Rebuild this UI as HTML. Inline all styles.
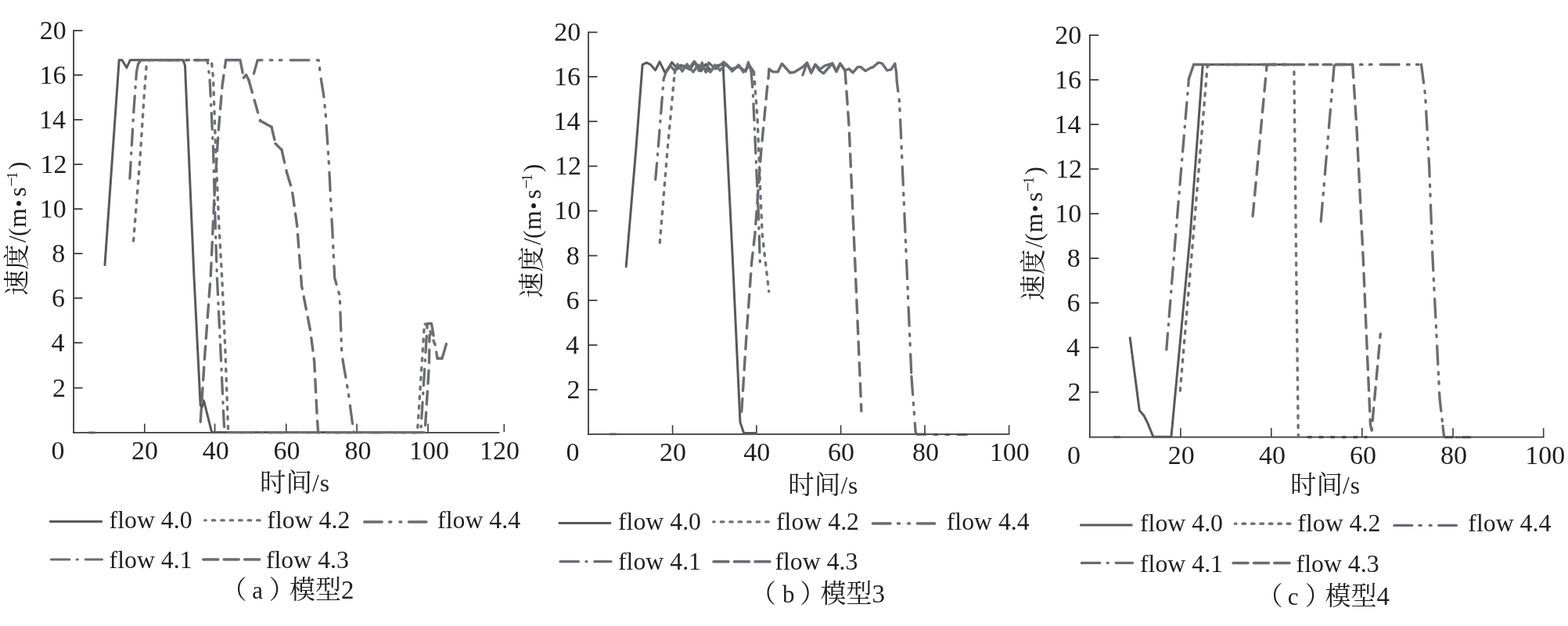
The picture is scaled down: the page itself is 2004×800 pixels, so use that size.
<!DOCTYPE html>
<html><head><meta charset="utf-8"><title>speed</title><style>
html,body{margin:0;padding:0;background:#fff;}
svg{display:block;}
text{font-family:"Liberation Serif","Noto Serif CJK SC",serif;fill:#1e1e1e;}
</style></head><body>
<svg width="2004" height="800" viewBox="0 0 2004 800">
<rect width="2004" height="800" fill="#ffffff"/>
<line x1="94.1" y1="38.2" x2="94.1" y2="553.8" stroke="#3a3a3a" stroke-width="1.80" stroke-linecap="butt"/>
<line x1="93.2" y1="552.9" x2="638.3" y2="552.9" stroke="#3a3a3a" stroke-width="1.80" stroke-linecap="butt"/>
<line x1="94.1" y1="39.1" x2="105.5" y2="39.1" stroke="#3a3a3a" stroke-width="1.75" stroke-linecap="butt"/>
<line x1="94.1" y1="95.9" x2="105.5" y2="95.9" stroke="#3a3a3a" stroke-width="1.75" stroke-linecap="butt"/>
<line x1="94.1" y1="153.0" x2="105.5" y2="153.0" stroke="#3a3a3a" stroke-width="1.75" stroke-linecap="butt"/>
<line x1="94.1" y1="210.0" x2="105.5" y2="210.0" stroke="#3a3a3a" stroke-width="1.75" stroke-linecap="butt"/>
<line x1="94.1" y1="267.0" x2="105.5" y2="267.0" stroke="#3a3a3a" stroke-width="1.75" stroke-linecap="butt"/>
<line x1="94.1" y1="324.0" x2="105.5" y2="324.0" stroke="#3a3a3a" stroke-width="1.75" stroke-linecap="butt"/>
<line x1="94.1" y1="381.0" x2="105.5" y2="381.0" stroke="#3a3a3a" stroke-width="1.75" stroke-linecap="butt"/>
<line x1="94.1" y1="438.0" x2="105.5" y2="438.0" stroke="#3a3a3a" stroke-width="1.75" stroke-linecap="butt"/>
<line x1="94.1" y1="495.7" x2="105.5" y2="495.7" stroke="#3a3a3a" stroke-width="1.75" stroke-linecap="butt"/>
<line x1="184.8" y1="552.9" x2="184.8" y2="541.4" stroke="#3a3a3a" stroke-width="1.60" stroke-linecap="butt"/>
<line x1="274.6" y1="552.9" x2="274.6" y2="541.4" stroke="#3a3a3a" stroke-width="1.60" stroke-linecap="butt"/>
<line x1="365.8" y1="552.9" x2="365.8" y2="541.4" stroke="#3a3a3a" stroke-width="1.60" stroke-linecap="butt"/>
<line x1="456.1" y1="552.9" x2="456.1" y2="541.4" stroke="#3a3a3a" stroke-width="1.60" stroke-linecap="butt"/>
<line x1="547.0" y1="552.9" x2="547.0" y2="541.4" stroke="#3a3a3a" stroke-width="1.60" stroke-linecap="butt"/>
<line x1="644.3" y1="551.9" x2="644.3" y2="541.9" stroke="#3a3a3a" stroke-width="1.60" stroke-linecap="butt"/>
<text x="50.79" y="49.90" font-size="34.00">20</text>
<text x="50.51" y="106.70" font-size="34.00">16</text>
<text x="50.03" y="163.80" font-size="34.00">14</text>
<text x="51.38" y="220.80" font-size="34.00">12</text>
<text x="50.79" y="277.80" font-size="34.00">10</text>
<text x="66.29" y="334.80" font-size="34.00">8</text>
<text x="66.01" y="391.80" font-size="34.00">6</text>
<text x="65.53" y="448.80" font-size="34.00">4</text>
<text x="66.88" y="506.50" font-size="34.00">2</text>
<text x="65.60" y="587.10" font-size="34.00">0</text>
<text x="168.00" y="587.10" font-size="34.00">20</text>
<text x="258.72" y="587.10" font-size="34.00">40</text>
<text x="349.42" y="587.10" font-size="34.00">60</text>
<text x="440.50" y="587.10" font-size="34.00">80</text>
<text x="522.95" y="587.10" font-size="34.00">100</text>
<text x="612.95" y="587.10" font-size="34.00">120</text>
<text x="331.95" y="627.60" font-size="33.50">时间</text>
<text x="399.00" y="627.60" font-size="31.50">/</text>
<text x="408.71" y="627.60" font-size="31.50">s</text>
<g transform="translate(33.00,377.50) rotate(-90)">
<text x="-0.00" y="0.00" font-size="32.5">速</text>
<text x="33.10" y="0.00" font-size="32.5">度</text>
<text x="67.60" y="0.00" font-size="31.5">/</text>
<text x="75.62" y="0.00" font-size="31.5">(</text>
<text x="86.84" y="0.00" font-size="31.5">m</text>
<text x="113.04" y="0.00" font-size="26.0">•</text>
<text x="126.21" y="0.00" font-size="31.5">s</text>
<text x="138.90" y="-11.10" font-size="22.0">−</text>
<text x="148.83" y="-11.10" font-size="19.0">1</text>
<text x="160.48" y="0.00" font-size="31.5">)</text>
</g>
<line x1="113.0" y1="552.9" x2="121.7" y2="552.9" stroke="#58595b" stroke-width="2.80" stroke-linecap="butt"/>
<path d="M134.0,338.6 L152.2,76.8 L156.0,76.8 L161.9,86.5 L166.3,76.8 L234.0,76.8 L236.5,84.0 L238.5,132.0 L247.8,350.0 L256.2,518.0 L258.0,521.0 L260.5,512.0 L270.7,552.6 L541.0,552.6" fill="none" stroke="#58595b" stroke-width="3.00" stroke-linecap="round" stroke-linejoin="round"/>
<path d="M170.6,307.7 L179.0,202.8 L184.0,125.0 L187.5,80.0 L190.0,76.8 L270.3,76.8 L272.5,100.0 L276.0,200.0 L280.0,290.0 L284.0,360.0 L288.0,450.0 L291.7,552.6 L533.4,552.6 L542.5,413.4 L548.0,418.0 L556.0,441.0" fill="none" stroke="#707174" stroke-width="3.40" stroke-linecap="round" stroke-linejoin="round" stroke-dasharray="3.5 8.7"/>
<path d="M165.9,228.0 L171.0,140.0 L174.5,92.0" fill="none" stroke="#6b6c70" stroke-width="3.30" stroke-linecap="round" stroke-linejoin="round" stroke-dasharray="21 10.3 1.7 9.3"/>
<path d="M174.5,92.0 L176.5,82.0 L180.0,76.8 L265.0,76.8 L268.0,100.0 L272.5,190.0 L275.0,280.0 L277.2,350.0 L282.0,450.0 L286.4,544.0 L287.5,552.6 L537.7,552.6 L546.2,413.5" fill="none" stroke="#6b6c70" stroke-width="3.30" stroke-linecap="round" stroke-linejoin="round" stroke-dasharray="21 10.3 1.7 9.3"/>
<path d="M546.2,413.5 L551.5,413.5 L559.0,458.0" fill="none" stroke="#6b6c70" stroke-width="3.30" stroke-linecap="round" stroke-linejoin="round" stroke-dasharray="21 10.3 1.7 9.3"/>
<path d="M559.0,458.0 L565.0,458.0" fill="none" stroke="#6b6c70" stroke-width="3.30" stroke-linecap="round" stroke-linejoin="round" stroke-dasharray="21 10.3 1.7 9.3"/>
<path d="M565.0,458.0 L570.5,439.5" fill="none" stroke="#6b6c70" stroke-width="3.30" stroke-linecap="round" stroke-linejoin="round" stroke-dasharray="21 10.3 1.7 9.3"/>
<path d="M256.2,539.0 L262.0,450.0 L269.4,350.0 L274.0,250.0 L279.0,170.0 L284.0,110.0 L288.7,76.8" fill="none" stroke="#6b6c70" stroke-width="3.40" stroke-linecap="round" stroke-linejoin="round" stroke-dasharray="16.6 10.1"/>
<path d="M288.7,76.8 L307.0,76.8" fill="none" stroke="#6b6c70" stroke-width="3.40" stroke-linecap="round" stroke-linejoin="round" stroke-dasharray="16.6 10.1"/>
<path d="M307.0,76.8 L311.4,99.4" fill="none" stroke="#6b6c70" stroke-width="3.40" stroke-linecap="round" stroke-linejoin="round" stroke-dasharray="16.6 10.1"/>
<path d="M311.4,99.4 L314.6,95.7" fill="none" stroke="#6b6c70" stroke-width="3.40" stroke-linecap="round" stroke-linejoin="round" stroke-dasharray="16.6 10.1"/>
<path d="M314.6,95.7 L317.9,102.2" fill="none" stroke="#6b6c70" stroke-width="3.40" stroke-linecap="round" stroke-linejoin="round" stroke-dasharray="16.6 10.1"/>
<path d="M317.9,102.2 L332.5,154.2" fill="none" stroke="#6b6c70" stroke-width="3.40" stroke-linecap="round" stroke-linejoin="round" stroke-dasharray="16.6 10.1"/>
<path d="M332.5,154.2 L347.1,162.3" fill="none" stroke="#6b6c70" stroke-width="3.40" stroke-linecap="round" stroke-linejoin="round" stroke-dasharray="16.6 10.1"/>
<path d="M347.1,162.3 L352.0,183.5" fill="none" stroke="#6b6c70" stroke-width="3.40" stroke-linecap="round" stroke-linejoin="round" stroke-dasharray="16.6 10.1"/>
<path d="M352.0,183.5 L360.1,191.6" fill="none" stroke="#6b6c70" stroke-width="3.40" stroke-linecap="round" stroke-linejoin="round" stroke-dasharray="16.6 10.1"/>
<path d="M360.1,191.6 L366.6,220.8" fill="none" stroke="#6b6c70" stroke-width="3.40" stroke-linecap="round" stroke-linejoin="round" stroke-dasharray="16.6 10.1"/>
<path d="M366.6,220.8 L373.1,242.0 L379.6,287.4 L385.5,365.0 L396.8,423.4 L401.7,462.4 L405.0,527.3 L406.6,552.6 L543.0,552.6 L548.3,468.7 L549.0,428.0" fill="none" stroke="#6b6c70" stroke-width="3.40" stroke-linecap="round" stroke-linejoin="round" stroke-dasharray="16.6 10.1"/>
<path d="M324.4,94.1 L329.2,76.8 L407.2,76.8 L410.5,102.2 L413.7,121.7 L416.3,147.7 L420.2,206.2 L423.5,271.2 L425.1,300.0 L427.7,355.2 L434.2,378.0 L436.8,452.6 L445.6,504.6 L452.0,552.6" fill="none" stroke="#6b6c70" stroke-width="3.30" stroke-linecap="round" stroke-linejoin="round" stroke-dasharray="23.7 10.3 2.7 9.3 2.7 11.3"/>
<line x1="63.2" y1="666.5" x2="130.8" y2="666.5" stroke="#58595b" stroke-width="3.00" stroke-linecap="butt"/>
<line x1="261.75" y1="664.90" x2="263.11" y2="664.90" stroke="#707174" stroke-width="3.40" stroke-linecap="round"/>
<line x1="271.40" y1="664.90" x2="274.81" y2="664.90" stroke="#707174" stroke-width="3.40" stroke-linecap="round"/>
<line x1="282.85" y1="664.90" x2="286.26" y2="664.90" stroke="#707174" stroke-width="3.40" stroke-linecap="round"/>
<line x1="294.30" y1="664.90" x2="297.71" y2="664.90" stroke="#707174" stroke-width="3.40" stroke-linecap="round"/>
<line x1="305.75" y1="664.90" x2="309.16" y2="664.90" stroke="#707174" stroke-width="3.40" stroke-linecap="round"/>
<line x1="317.20" y1="664.90" x2="320.61" y2="664.90" stroke="#707174" stroke-width="3.40" stroke-linecap="round"/>
<line x1="328.65" y1="664.90" x2="332.06" y2="664.90" stroke="#707174" stroke-width="3.40" stroke-linecap="round"/>
<line x1="465.60" y1="667.00" x2="488.21" y2="667.00" stroke="#6b6c70" stroke-width="3.40" stroke-linecap="round"/>
<line x1="497.60" y1="667.00" x2="499.81" y2="667.00" stroke="#6b6c70" stroke-width="3.40" stroke-linecap="round"/>
<line x1="510.90" y1="667.00" x2="512.71" y2="667.00" stroke="#6b6c70" stroke-width="3.40" stroke-linecap="round"/>
<line x1="522.50" y1="667.00" x2="544.91" y2="667.00" stroke="#6b6c70" stroke-width="3.40" stroke-linecap="round"/>
<line x1="65.40" y1="715.00" x2="88.81" y2="715.00" stroke="#6b6c70" stroke-width="3.20" stroke-linecap="round"/>
<line x1="98.30" y1="715.00" x2="99.31" y2="715.00" stroke="#6b6c70" stroke-width="3.20" stroke-linecap="round"/>
<line x1="109.20" y1="715.00" x2="130.41" y2="715.00" stroke="#6b6c70" stroke-width="3.20" stroke-linecap="round"/>
<line x1="259.75" y1="715.00" x2="278.76" y2="715.00" stroke="#6b6c70" stroke-width="3.50" stroke-linecap="round"/>
<line x1="286.15" y1="715.00" x2="305.16" y2="715.00" stroke="#6b6c70" stroke-width="3.50" stroke-linecap="round"/>
<line x1="312.55" y1="715.00" x2="331.66" y2="715.00" stroke="#6b6c70" stroke-width="3.50" stroke-linecap="round"/>
<text x="139.62" y="675.20" font-size="31.80">flow 4.0</text>
<text x="341.32" y="675.20" font-size="31.80">flow 4.2</text>
<text x="559.12" y="675.20" font-size="31.80">flow 4.4</text>
<text x="139.62" y="725.60" font-size="31.80">flow 4.1</text>
<text x="339.92" y="725.60" font-size="31.80">flow 4.3</text>
<text x="282.52" y="764.60" font-size="33.00">（</text>
<text x="322.31" y="764.60" font-size="31.00">a</text>
<text x="343.82" y="764.60" font-size="33.00">）</text>
<text x="369.91" y="764.60" font-size="33.00">模型2</text>
<line x1="752.0" y1="40.4" x2="752.0" y2="555.7" stroke="#3a3a3a" stroke-width="1.80" stroke-linecap="butt"/>
<line x1="751.1" y1="554.8" x2="1290.4" y2="554.8" stroke="#3a3a3a" stroke-width="1.80" stroke-linecap="butt"/>
<line x1="752.0" y1="41.3" x2="763.4" y2="41.3" stroke="#3a3a3a" stroke-width="1.75" stroke-linecap="butt"/>
<line x1="752.0" y1="98.1" x2="763.4" y2="98.1" stroke="#3a3a3a" stroke-width="1.75" stroke-linecap="butt"/>
<line x1="752.0" y1="155.2" x2="763.4" y2="155.2" stroke="#3a3a3a" stroke-width="1.75" stroke-linecap="butt"/>
<line x1="752.0" y1="212.4" x2="763.4" y2="212.4" stroke="#3a3a3a" stroke-width="1.75" stroke-linecap="butt"/>
<line x1="752.0" y1="269.5" x2="763.4" y2="269.5" stroke="#3a3a3a" stroke-width="1.75" stroke-linecap="butt"/>
<line x1="752.0" y1="326.7" x2="763.4" y2="326.7" stroke="#3a3a3a" stroke-width="1.75" stroke-linecap="butt"/>
<line x1="752.0" y1="383.8" x2="763.4" y2="383.8" stroke="#3a3a3a" stroke-width="1.75" stroke-linecap="butt"/>
<line x1="752.0" y1="441.0" x2="763.4" y2="441.0" stroke="#3a3a3a" stroke-width="1.75" stroke-linecap="butt"/>
<line x1="752.0" y1="498.1" x2="763.4" y2="498.1" stroke="#3a3a3a" stroke-width="1.75" stroke-linecap="butt"/>
<line x1="859.6" y1="554.8" x2="859.6" y2="543.3" stroke="#3a3a3a" stroke-width="1.60" stroke-linecap="butt"/>
<line x1="966.9" y1="554.8" x2="966.9" y2="543.3" stroke="#3a3a3a" stroke-width="1.60" stroke-linecap="butt"/>
<line x1="1074.6" y1="554.8" x2="1074.6" y2="543.3" stroke="#3a3a3a" stroke-width="1.60" stroke-linecap="butt"/>
<line x1="1182.0" y1="554.8" x2="1182.0" y2="543.3" stroke="#3a3a3a" stroke-width="1.60" stroke-linecap="butt"/>
<line x1="1289.6" y1="554.8" x2="1289.6" y2="543.3" stroke="#3a3a3a" stroke-width="1.60" stroke-linecap="butt"/>
<text x="708.29" y="52.10" font-size="34.00">20</text>
<text x="708.01" y="108.90" font-size="34.00">16</text>
<text x="707.53" y="166.00" font-size="34.00">14</text>
<text x="708.88" y="223.20" font-size="34.00">12</text>
<text x="708.29" y="280.30" font-size="34.00">10</text>
<text x="723.79" y="337.50" font-size="34.00">8</text>
<text x="723.51" y="394.60" font-size="34.00">6</text>
<text x="723.03" y="451.80" font-size="34.00">4</text>
<text x="724.38" y="508.90" font-size="34.00">2</text>
<text x="723.60" y="589.20" font-size="34.00">0</text>
<text x="842.90" y="589.20" font-size="34.00">20</text>
<text x="950.22" y="589.20" font-size="34.00">40</text>
<text x="1057.92" y="589.20" font-size="34.00">60</text>
<text x="1166.00" y="589.20" font-size="34.00">80</text>
<text x="1264.85" y="589.20" font-size="34.00">100</text>
<text x="1007.35" y="630.80" font-size="33.50">时间</text>
<text x="1074.40" y="630.80" font-size="31.50">/</text>
<text x="1084.11" y="630.80" font-size="31.50">s</text>
<g transform="translate(691.25,380.50) rotate(-90)">
<text x="-0.00" y="0.00" font-size="32.5">速</text>
<text x="33.10" y="0.00" font-size="32.5">度</text>
<text x="67.60" y="0.00" font-size="31.5">/</text>
<text x="75.62" y="0.00" font-size="31.5">(</text>
<text x="86.84" y="0.00" font-size="31.5">m</text>
<text x="113.04" y="0.00" font-size="26.0">•</text>
<text x="126.21" y="0.00" font-size="31.5">s</text>
<text x="138.90" y="-11.10" font-size="22.0">−</text>
<text x="148.83" y="-11.10" font-size="19.0">1</text>
<text x="160.48" y="0.00" font-size="31.5">)</text>
</g>
<line x1="778.8" y1="554.8" x2="787.7" y2="554.8" stroke="#58595b" stroke-width="2.80" stroke-linecap="butt"/>
<path d="M800.2,340.7 L812.9,190.0 L821.1,82.7 L826.4,80.1 L831.6,82.7 L837.7,89.7 L843.0,78.9 L850.0,93.0 L858.8,79.7 L866.0,88.0 L874.0,84.0 L882.0,89.0 L888.0,79.0 L896.0,91.0 L902.0,82.0 L908.0,90.0 L916.0,84.0 L924.0,82.0 L924.4,88.7 L936.3,330.0 L946.0,539.7 L950.6,553.2 L965.8,553.5" fill="none" stroke="#58595b" stroke-width="3.00" stroke-linecap="round" stroke-linejoin="round"/>
<path d="M843.3,310.0 L852.8,194.2 L862.2,93.2" fill="none" stroke="#707174" stroke-width="3.40" stroke-linecap="round" stroke-linejoin="round" stroke-dasharray="3.5 8.7"/>
<path d="M862.2,93.2 L866.0,82.0 L872.0,91.0 L878.0,82.0 L886.0,92.0 L892.0,83.0 L900.0,88.0 L908.0,92.0 L914.0,83.0 L920.0,90.0 L928.0,82.0 L936.0,91.0 L944.0,83.0 L950.0,92.0 L958.0,84.0 L963.5,92.0" fill="none" stroke="#707174" stroke-width="3.40" stroke-linecap="round" stroke-linejoin="round"/>
<path d="M963.5,92.0 L968.0,150.0 L972.0,250.0 L974.3,300.0 L982.7,372.6" fill="none" stroke="#707174" stroke-width="3.40" stroke-linecap="round" stroke-linejoin="round" stroke-dasharray="3.5 8.7"/>
<path d="M837.7,229.3 L840.3,200.0 L848.2,101.1 L850.8,93.2" fill="none" stroke="#6b6c70" stroke-width="3.30" stroke-linecap="round" stroke-linejoin="round" stroke-dasharray="21 10.3 1.7 9.3"/>
<path d="M850.8,93.2 L857.0,84.0 L862.0,90.2 L870.2,83.2 L880.2,88.0 L887.2,78.4 L893.4,90.6 L897.3,80.0 L902.1,92.4 L905.6,80.1 L914.8,88.0 L924.9,79.2 L934.5,88.0 L945.0,85.4 L952.9,91.5 L956.4,79.7 L960.0,90.4" fill="none" stroke="#6b6c70" stroke-width="3.30" stroke-linecap="round" stroke-linejoin="round"/>
<path d="M960.0,90.4 L962.4,120.8 L965.8,195.0 L969.2,269.3 L971.6,343.9" fill="none" stroke="#6b6c70" stroke-width="3.30" stroke-linecap="round" stroke-linejoin="round" stroke-dasharray="21 10.3 1.7 9.3"/>
<path d="M947.8,526.0 L954.0,428.3 L960.8,333.8 L964.8,300.0 L972.6,195.0 L981.0,107.3 L982.4,96.8" fill="none" stroke="#6b6c70" stroke-width="3.40" stroke-linecap="round" stroke-linejoin="round" stroke-dasharray="16.6 10.1"/>
<path d="M982.4,96.8 L982.8,88.1 L988.0,91.9 L994.0,91.9 L999.3,81.4 L1009.8,93.0 L1015.0,92.3 L1025.5,85.9 L1031.5,80.3 L1036.8,93.0 L1042.0,82.5 L1047.3,90.0 L1052.5,93.8 L1063.8,81.0 L1069.0,91.5 L1073.8,81.2 L1080.0,90.0" fill="none" stroke="#6b6c70" stroke-width="3.40" stroke-linecap="round" stroke-linejoin="round"/>
<path d="M1080.0,90.0 L1085.0,160.0 L1093.0,340.0 L1100.9,525.4" fill="none" stroke="#6b6c70" stroke-width="3.40" stroke-linecap="round" stroke-linejoin="round" stroke-dasharray="16.6 10.1"/>
<path d="M1025.9,96.0 L1031.5,80.3 L1036.8,93.0 L1042.0,82.5 L1048.0,88.5 L1054.0,84.0 L1063.8,81.0 L1068.8,91.2 L1073.8,81.2 L1080.0,90.0 L1085.0,88.0 L1090.0,92.8 L1096.2,85.6 L1100.0,85.6 L1106.2,90.6 L1112.5,86.9 L1116.2,85.6 L1122.5,80.0 L1127.5,81.2 L1133.8,90.0 L1138.8,88.8 L1143.8,81.2 L1145.6,93.1" fill="none" stroke="#6b6c70" stroke-width="3.30" stroke-linecap="round" stroke-linejoin="round"/>
<path d="M1145.6,93.1 L1146.2,103.8 L1149.4,128.8 L1150.6,152.5 L1157.0,297.3 L1164.9,480.8" fill="none" stroke="#6b6c70" stroke-width="3.30" stroke-linecap="round" stroke-linejoin="round" stroke-dasharray="23.7 10.3 2.7 9.3 2.7 11.3"/>
<path d="M1164.9,480.8 L1170.1,551.6 L1170.6,553.5" fill="none" stroke="#6b6c70" stroke-width="3.30" stroke-linecap="round" stroke-linejoin="round" stroke-dasharray="23.7 10.3 2.7 9.3 2.7 11.3"/>
<line x1="1172.10" y1="555.00" x2="1182.91" y2="555.00" stroke="#4a4a4c" stroke-width="3.1" stroke-linecap="round"/>
<line x1="1193.90" y1="555.20" x2="1197.91" y2="555.20" stroke="#4a4a4c" stroke-width="3.1" stroke-linecap="round"/>
<line x1="1208.90" y1="555.20" x2="1212.91" y2="555.20" stroke="#4a4a4c" stroke-width="3.1" stroke-linecap="round"/>
<line x1="1223.90" y1="555.20" x2="1235.31" y2="555.20" stroke="#4a4a4c" stroke-width="3.1" stroke-linecap="round"/>
<line x1="713.8" y1="668.5" x2="781.1" y2="668.5" stroke="#58595b" stroke-width="3.00" stroke-linecap="butt"/>
<line x1="911.75" y1="666.90" x2="913.11" y2="666.90" stroke="#707174" stroke-width="3.40" stroke-linecap="round"/>
<line x1="921.40" y1="666.90" x2="924.81" y2="666.90" stroke="#707174" stroke-width="3.40" stroke-linecap="round"/>
<line x1="932.85" y1="666.90" x2="936.26" y2="666.90" stroke="#707174" stroke-width="3.40" stroke-linecap="round"/>
<line x1="944.30" y1="666.90" x2="947.71" y2="666.90" stroke="#707174" stroke-width="3.40" stroke-linecap="round"/>
<line x1="955.75" y1="666.90" x2="959.16" y2="666.90" stroke="#707174" stroke-width="3.40" stroke-linecap="round"/>
<line x1="967.20" y1="666.90" x2="970.61" y2="666.90" stroke="#707174" stroke-width="3.40" stroke-linecap="round"/>
<line x1="978.65" y1="666.90" x2="982.06" y2="666.90" stroke="#707174" stroke-width="3.40" stroke-linecap="round"/>
<line x1="1115.40" y1="669.00" x2="1138.01" y2="669.00" stroke="#6b6c70" stroke-width="3.40" stroke-linecap="round"/>
<line x1="1147.40" y1="669.00" x2="1149.61" y2="669.00" stroke="#6b6c70" stroke-width="3.40" stroke-linecap="round"/>
<line x1="1160.70" y1="669.00" x2="1162.51" y2="669.00" stroke="#6b6c70" stroke-width="3.40" stroke-linecap="round"/>
<line x1="1172.30" y1="669.00" x2="1194.71" y2="669.00" stroke="#6b6c70" stroke-width="3.40" stroke-linecap="round"/>
<line x1="716.00" y1="717.70" x2="739.41" y2="717.70" stroke="#6b6c70" stroke-width="3.20" stroke-linecap="round"/>
<line x1="748.90" y1="717.70" x2="749.91" y2="717.70" stroke="#6b6c70" stroke-width="3.20" stroke-linecap="round"/>
<line x1="759.80" y1="717.70" x2="781.01" y2="717.70" stroke="#6b6c70" stroke-width="3.20" stroke-linecap="round"/>
<line x1="912.05" y1="717.70" x2="931.06" y2="717.70" stroke="#6b6c70" stroke-width="3.50" stroke-linecap="round"/>
<line x1="938.45" y1="717.70" x2="957.46" y2="717.70" stroke="#6b6c70" stroke-width="3.50" stroke-linecap="round"/>
<line x1="964.85" y1="717.70" x2="983.96" y2="717.70" stroke="#6b6c70" stroke-width="3.50" stroke-linecap="round"/>
<text x="790.02" y="676.70" font-size="31.80">flow 4.0</text>
<text x="992.02" y="676.70" font-size="31.80">flow 4.2</text>
<text x="1209.72" y="676.70" font-size="31.80">flow 4.4</text>
<text x="790.02" y="727.60" font-size="31.80">flow 4.1</text>
<text x="990.42" y="727.60" font-size="31.80">flow 4.3</text>
<text x="959.02" y="769.50" font-size="33.00">（</text>
<text x="999.90" y="769.50" font-size="31.00">b</text>
<text x="1022.32" y="769.50" font-size="33.00">）</text>
<text x="1048.41" y="769.50" font-size="33.00">模型3</text>
<line x1="1392.8" y1="44.1" x2="1392.8" y2="559.5" stroke="#3a3a3a" stroke-width="1.80" stroke-linecap="butt"/>
<line x1="1391.9" y1="558.6" x2="1973.5" y2="558.6" stroke="#3a3a3a" stroke-width="1.80" stroke-linecap="butt"/>
<line x1="1392.8" y1="45.0" x2="1404.2" y2="45.0" stroke="#3a3a3a" stroke-width="1.75" stroke-linecap="butt"/>
<line x1="1392.8" y1="102.0" x2="1404.2" y2="102.0" stroke="#3a3a3a" stroke-width="1.75" stroke-linecap="butt"/>
<line x1="1392.8" y1="159.0" x2="1404.2" y2="159.0" stroke="#3a3a3a" stroke-width="1.75" stroke-linecap="butt"/>
<line x1="1392.8" y1="216.0" x2="1404.2" y2="216.0" stroke="#3a3a3a" stroke-width="1.75" stroke-linecap="butt"/>
<line x1="1392.8" y1="273.1" x2="1404.2" y2="273.1" stroke="#3a3a3a" stroke-width="1.75" stroke-linecap="butt"/>
<line x1="1392.8" y1="330.1" x2="1404.2" y2="330.1" stroke="#3a3a3a" stroke-width="1.75" stroke-linecap="butt"/>
<line x1="1392.8" y1="387.1" x2="1404.2" y2="387.1" stroke="#3a3a3a" stroke-width="1.75" stroke-linecap="butt"/>
<line x1="1392.8" y1="444.1" x2="1404.2" y2="444.1" stroke="#3a3a3a" stroke-width="1.75" stroke-linecap="butt"/>
<line x1="1392.8" y1="501.2" x2="1404.2" y2="501.2" stroke="#3a3a3a" stroke-width="1.75" stroke-linecap="butt"/>
<line x1="1508.9" y1="558.6" x2="1508.9" y2="547.1" stroke="#3a3a3a" stroke-width="1.60" stroke-linecap="butt"/>
<line x1="1624.8" y1="558.6" x2="1624.8" y2="547.1" stroke="#3a3a3a" stroke-width="1.60" stroke-linecap="butt"/>
<line x1="1740.8" y1="558.6" x2="1740.8" y2="547.1" stroke="#3a3a3a" stroke-width="1.60" stroke-linecap="butt"/>
<line x1="1857.0" y1="558.6" x2="1857.0" y2="547.1" stroke="#3a3a3a" stroke-width="1.60" stroke-linecap="butt"/>
<line x1="1972.7" y1="558.6" x2="1972.7" y2="547.1" stroke="#3a3a3a" stroke-width="1.60" stroke-linecap="butt"/>
<text x="1348.29" y="55.80" font-size="34.00">20</text>
<text x="1348.01" y="112.80" font-size="34.00">16</text>
<text x="1347.53" y="169.80" font-size="34.00">14</text>
<text x="1348.88" y="226.80" font-size="34.00">12</text>
<text x="1348.29" y="283.90" font-size="34.00">10</text>
<text x="1363.79" y="340.90" font-size="34.00">8</text>
<text x="1363.51" y="397.90" font-size="34.00">6</text>
<text x="1363.03" y="454.90" font-size="34.00">4</text>
<text x="1364.38" y="512.00" font-size="34.00">2</text>
<text x="1363.90" y="592.80" font-size="34.00">0</text>
<text x="1492.70" y="592.80" font-size="34.00">20</text>
<text x="1609.12" y="592.80" font-size="34.00">40</text>
<text x="1724.92" y="592.80" font-size="34.00">60</text>
<text x="1841.10" y="592.80" font-size="34.00">80</text>
<text x="1949.35" y="592.80" font-size="34.00">100</text>
<text x="1649.05" y="631.30" font-size="33.50">时间</text>
<text x="1716.10" y="631.30" font-size="31.50">/</text>
<text x="1725.81" y="631.30" font-size="31.50">s</text>
<g transform="translate(1332.25,384.00) rotate(-90)">
<text x="-0.00" y="0.00" font-size="32.5">速</text>
<text x="33.10" y="0.00" font-size="32.5">度</text>
<text x="67.60" y="0.00" font-size="31.5">/</text>
<text x="75.62" y="0.00" font-size="31.5">(</text>
<text x="86.84" y="0.00" font-size="31.5">m</text>
<text x="113.04" y="0.00" font-size="26.0">•</text>
<text x="126.21" y="0.00" font-size="31.5">s</text>
<text x="138.90" y="-11.10" font-size="22.0">−</text>
<text x="148.83" y="-11.10" font-size="19.0">1</text>
<text x="160.48" y="0.00" font-size="31.5">)</text>
</g>
<line x1="1422.8" y1="558.6" x2="1431.8" y2="558.6" stroke="#58595b" stroke-width="2.80" stroke-linecap="butt"/>
<path d="M1444.2,431.7 L1456.3,524.5 L1462.1,531.3 L1467.1,541.4 L1473.9,558.3 L1496.9,558.3 L1521.2,300.0 L1537.2,82.7 L1539.0,82.5 L1648.0,82.5" fill="none" stroke="#58595b" stroke-width="3.00" stroke-linecap="round" stroke-linejoin="round"/>
<path d="M1508.3,499.2 L1525.2,300.0 L1543.1,84.4 L1546.0,82.5 L1653.8,82.5 L1656.2,300.0 L1659.3,558.4" fill="none" stroke="#707174" stroke-width="3.40" stroke-linecap="round" stroke-linejoin="round" stroke-dasharray="3.5 8.7"/>
<line x1="1671.70" y1="558.60" x2="1675.71" y2="558.60" stroke="#4a4a4c" stroke-width="3.1" stroke-linecap="round"/>
<line x1="1686.40" y1="558.60" x2="1690.41" y2="558.60" stroke="#4a4a4c" stroke-width="3.1" stroke-linecap="round"/>
<line x1="1701.10" y1="558.60" x2="1705.11" y2="558.60" stroke="#4a4a4c" stroke-width="3.1" stroke-linecap="round"/>
<line x1="1715.80" y1="558.60" x2="1719.71" y2="558.60" stroke="#4a4a4c" stroke-width="3.1" stroke-linecap="round"/>
<line x1="1730.40" y1="558.60" x2="1734.41" y2="558.60" stroke="#4a4a4c" stroke-width="3.1" stroke-linecap="round"/>
<line x1="1744.40" y1="558.60" x2="1746.61" y2="558.60" stroke="#4a4a4c" stroke-width="3.1" stroke-linecap="round"/>
<path d="M1490.8,446.9 L1502.6,300.0 L1519.4,100.6" fill="none" stroke="#6b6c70" stroke-width="3.30" stroke-linecap="round" stroke-linejoin="round" stroke-dasharray="21 10.3 1.7 9.3"/>
<path d="M1519.4,100.6 L1525.6,82.5" fill="none" stroke="#6b6c70" stroke-width="3.30" stroke-linecap="round" stroke-linejoin="round" stroke-dasharray="21 10.3 1.7 9.3"/>
<path d="M1525.6,82.5 L1648.0,82.5" fill="none" stroke="#6b6c70" stroke-width="3.30" stroke-linecap="round" stroke-linejoin="round" stroke-dasharray="21 10.3 1.7 9.3"/>
<path d="M1601.1,276.2 L1619.0,84.3 L1621.0,82.5" fill="none" stroke="#6b6c70" stroke-width="3.40" stroke-linecap="round" stroke-linejoin="round" stroke-dasharray="16.6 10.1"/>
<path d="M1621.0,82.5 L1728.7,82.5" fill="none" stroke="#6b6c70" stroke-width="3.40" stroke-linecap="round" stroke-linejoin="round" stroke-dasharray="10.6 6.9"/>
<path d="M1728.7,82.5 L1733.8,161.3 L1742.2,330.0 L1747.4,452.0 L1751.5,543.2 L1753.2,550.0 L1754.9,529.7 L1764.3,426.7" fill="none" stroke="#6b6c70" stroke-width="3.40" stroke-linecap="round" stroke-linejoin="round" stroke-dasharray="16.6 10.1"/>
<path d="M1688.2,283.0 L1705.1,84.3" fill="none" stroke="#6b6c70" stroke-width="3.30" stroke-linecap="round" stroke-linejoin="round" stroke-dasharray="23.7 10.3 2.7 9.3 2.7 11.3"/>
<path d="M1705.1,84.3 L1707.0,82.5 L1816.5,82.5" fill="none" stroke="#6b6c70" stroke-width="3.30" stroke-linecap="round" stroke-linejoin="round" stroke-dasharray="23.7 10.3 2.7 9.3 2.7 11.3"/>
<path d="M1816.5,82.5 L1821.5,120.8 L1826.6,211.9 L1831.0,330.0 L1840.0,509.0 L1844.0,544.4" fill="none" stroke="#6b6c70" stroke-width="3.30" stroke-linecap="round" stroke-linejoin="round" stroke-dasharray="23.7 10.3 2.7 9.3 2.7 11.3"/>
<path d="M1844.0,544.4 L1845.5,557.5" fill="none" stroke="#6b6c70" stroke-width="3.30" stroke-linecap="round" stroke-linejoin="round" stroke-dasharray="23.7 10.3 2.7 9.3 2.7 11.3"/>
<line x1="1847.00" y1="558.70" x2="1856.01" y2="558.70" stroke="#4a4a4c" stroke-width="3.1" stroke-linecap="round"/>
<line x1="1861.50" y1="558.70" x2="1861.51" y2="558.70" stroke="#4a4a4c" stroke-width="3.1" stroke-linecap="round"/>
<line x1="1865.00" y1="558.70" x2="1865.01" y2="558.70" stroke="#4a4a4c" stroke-width="3.1" stroke-linecap="round"/>
<line x1="1869.00" y1="558.70" x2="1879.01" y2="558.70" stroke="#4a4a4c" stroke-width="3.1" stroke-linecap="round"/>
<line x1="1380.2" y1="670.9" x2="1447.5" y2="670.9" stroke="#58595b" stroke-width="3.00" stroke-linecap="butt"/>
<line x1="1578.45" y1="669.30" x2="1579.81" y2="669.30" stroke="#707174" stroke-width="3.40" stroke-linecap="round"/>
<line x1="1588.10" y1="669.30" x2="1591.51" y2="669.30" stroke="#707174" stroke-width="3.40" stroke-linecap="round"/>
<line x1="1599.55" y1="669.30" x2="1602.96" y2="669.30" stroke="#707174" stroke-width="3.40" stroke-linecap="round"/>
<line x1="1611.00" y1="669.30" x2="1614.41" y2="669.30" stroke="#707174" stroke-width="3.40" stroke-linecap="round"/>
<line x1="1622.45" y1="669.30" x2="1625.86" y2="669.30" stroke="#707174" stroke-width="3.40" stroke-linecap="round"/>
<line x1="1633.90" y1="669.30" x2="1637.31" y2="669.30" stroke="#707174" stroke-width="3.40" stroke-linecap="round"/>
<line x1="1645.35" y1="669.30" x2="1648.76" y2="669.30" stroke="#707174" stroke-width="3.40" stroke-linecap="round"/>
<line x1="1782.00" y1="671.40" x2="1804.61" y2="671.40" stroke="#6b6c70" stroke-width="3.40" stroke-linecap="round"/>
<line x1="1814.00" y1="671.40" x2="1816.21" y2="671.40" stroke="#6b6c70" stroke-width="3.40" stroke-linecap="round"/>
<line x1="1827.30" y1="671.40" x2="1829.11" y2="671.40" stroke="#6b6c70" stroke-width="3.40" stroke-linecap="round"/>
<line x1="1838.90" y1="671.40" x2="1861.31" y2="671.40" stroke="#6b6c70" stroke-width="3.40" stroke-linecap="round"/>
<line x1="1382.40" y1="719.40" x2="1405.81" y2="719.40" stroke="#6b6c70" stroke-width="3.20" stroke-linecap="round"/>
<line x1="1415.30" y1="719.40" x2="1416.31" y2="719.40" stroke="#6b6c70" stroke-width="3.20" stroke-linecap="round"/>
<line x1="1426.20" y1="719.40" x2="1447.41" y2="719.40" stroke="#6b6c70" stroke-width="3.20" stroke-linecap="round"/>
<line x1="1576.05" y1="719.40" x2="1595.06" y2="719.40" stroke="#6b6c70" stroke-width="3.50" stroke-linecap="round"/>
<line x1="1602.45" y1="719.40" x2="1621.46" y2="719.40" stroke="#6b6c70" stroke-width="3.50" stroke-linecap="round"/>
<line x1="1628.85" y1="719.40" x2="1647.96" y2="719.40" stroke="#6b6c70" stroke-width="3.50" stroke-linecap="round"/>
<text x="1457.02" y="679.10" font-size="31.80">flow 4.0</text>
<text x="1658.32" y="679.10" font-size="31.80">flow 4.2</text>
<text x="1876.32" y="679.10" font-size="31.80">flow 4.4</text>
<text x="1457.02" y="730.60" font-size="31.80">flow 4.1</text>
<text x="1656.62" y="730.60" font-size="31.80">flow 4.3</text>
<text x="1606.52" y="772.90" font-size="33.00">（</text>
<text x="1645.72" y="772.90" font-size="31.00">c</text>
<text x="1667.82" y="772.90" font-size="33.00">）</text>
<text x="1693.41" y="772.90" font-size="33.00">模型4</text>
</svg>
</body></html>
